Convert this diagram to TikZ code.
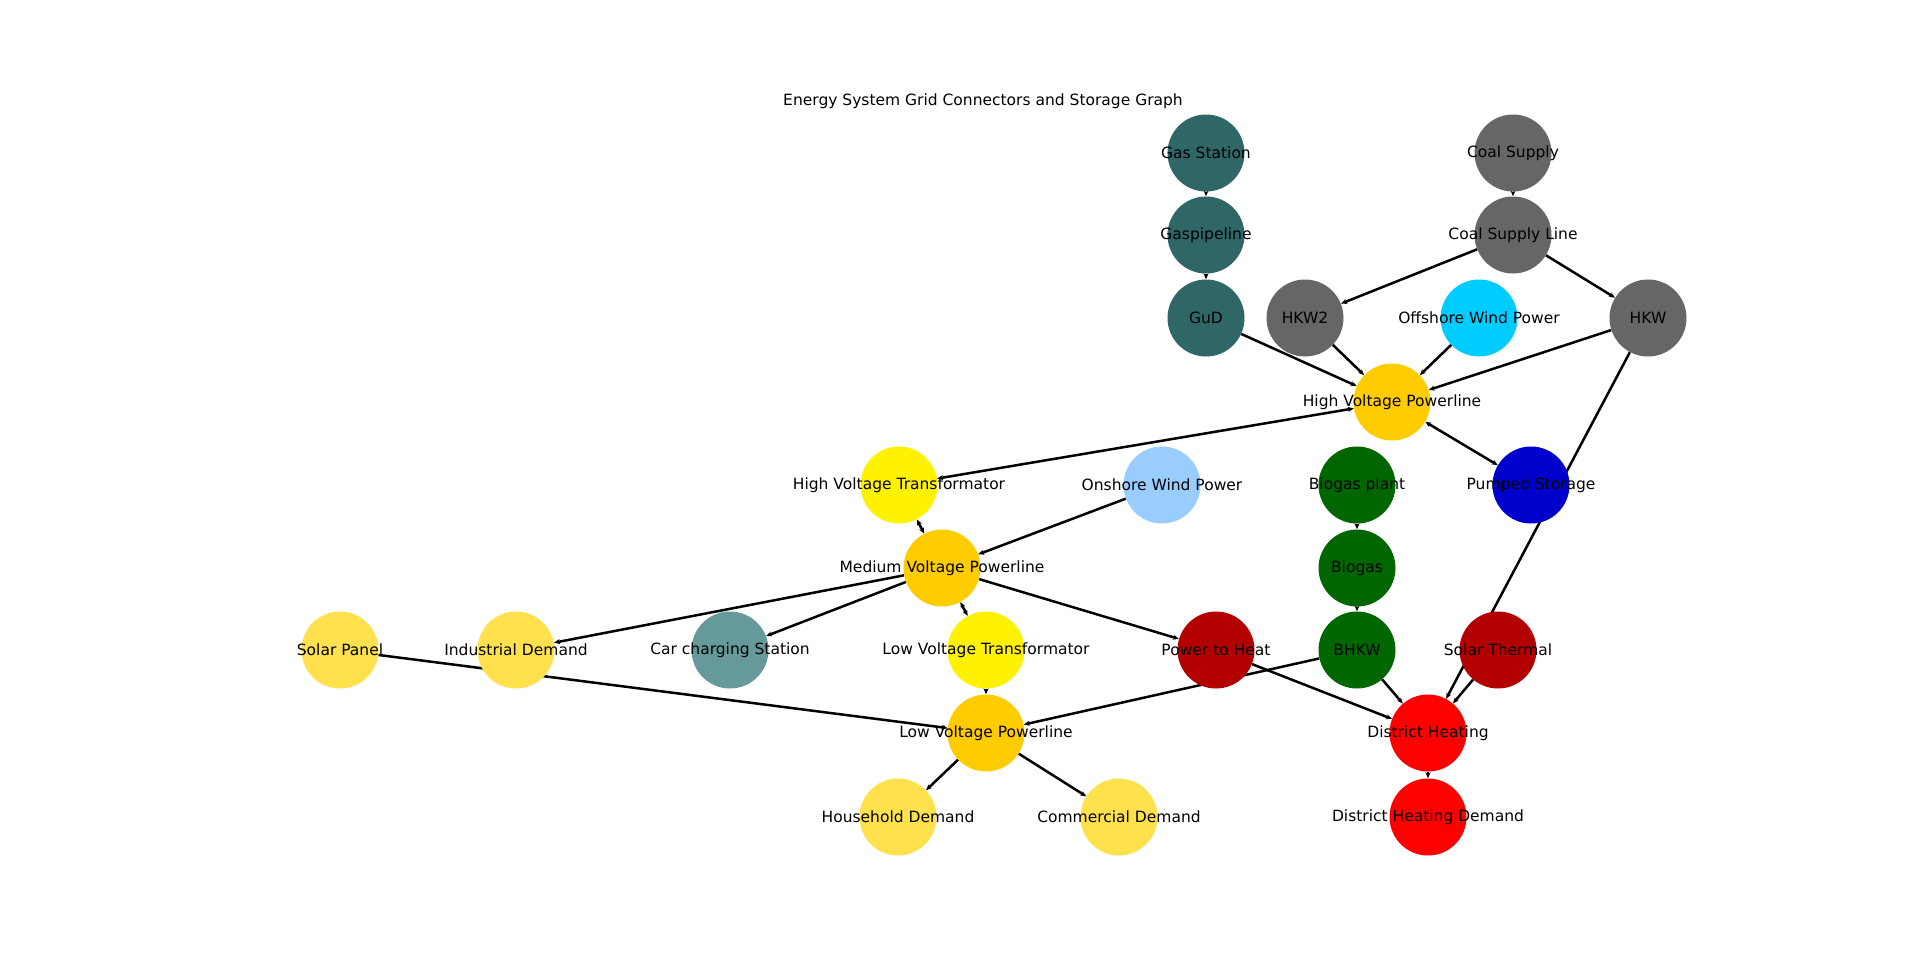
\documentclass[tikz,border=0pt]{standalone}
\usepackage{fontspec}
\setmainfont{DejaVu Sans}
\usetikzlibrary{arrows.meta,backgrounds,shapes.geometric}
\definecolor{slate}{HTML}{2F6666}
\definecolor{coal}{HTML}{666666}
\definecolor{sea}{HTML}{00CCFF}
\definecolor{gold}{HTML}{FFCC00}
\definecolor{sky}{HTML}{99CCFF}
\definecolor{bio}{HTML}{006600}
\definecolor{pump}{HTML}{0000CC}
\definecolor{sun}{HTML}{FFE14D}
\definecolor{cadet}{HTML}{669999}
\definecolor{heat}{HTML}{B30000}
\begin{document}
\begin{tikzpicture}[x=1pt,y=-1pt,
  n/.style={ellipse,draw=none,fill=#1,minimum width=77pt,minimum height=77pt,inner sep=0pt},
  t/.style={label={[font=\fontsize{15.5}{17}\selectfont,text=black]center:#1}},
  e/.style={line width=2.5pt,-{Stealth[length=6pt,width=5pt]}},
  b/.style={line width=2.5pt,{Stealth[length=6pt,width=5pt]}-{Stealth[length=6pt,width=5pt]}}]
  \useasboundingbox (0,0) rectangle (1920,961);
  \node [font=\fontsize{15.5}{17}\selectfont] (title) at (983,101) {Energy System Grid Connectors and Storage Graph};

  % nodes
  \node [n=slate,t=Gas Station] (gas) at (1206,153) {};
  \node [n=slate,t=Gaspipeline] (pipe) at (1206,235) {};
  \node [n=slate,t=GuD] (gud) at (1206,318) {};
  \node [n=coal,t=Coal Supply] (coal) at (1513,153) {};
  \node [n=coal,t=Coal Supply Line] (csl) at (1513,235) {};
  \node [n=coal,t=HKW2] (hkw2) at (1305,318) {};
  \node [n=sea,t=Offshore Wind Power] (off) at (1479,318) {};
  \node [n=coal,t=HKW] (hkw) at (1648,318) {};
  \node [n=gold,t=High Voltage Powerline] (hvp) at (1392,402) {};
  \node [n=yellow,t=High Voltage Transformator] (hvt) at (899,485) {};
  \node [n=sky,t=Onshore Wind Power] (on) at (1162,485) {};
  \node [n=bio,t=Biogas plant] (bplant) at (1357,485) {};
  \node [n=pump,t=Pumped Storage] (pump) at (1531,485) {};
  \node [n=gold,t=Medium Voltage Powerline] (mvp) at (942,568) {};
  \node [n=bio,t=Biogas] (biogas) at (1357,568) {};
  \node [n=sun,t=Solar Panel] (solar) at (340,650) {};
  \node [n=sun,t=Industrial Demand] (ind) at (516,650) {};
  \node [n=cadet,t=Car charging Station] (car) at (730,650) {};
  \node [n=yellow,t=Low Voltage Transformator] (lvt) at (986,650) {};
  \node [n=heat,t=Power to Heat] (p2h) at (1216,650) {};
  \node [n=bio,t=BHKW] (bhkw) at (1357,650) {};
  \node [n=heat,t=Solar Thermal] (sth) at (1498,650) {};
  \node [n=gold,t=Low Voltage Powerline] (lvp) at (986,733) {};
  \node [n=red,t=District Heating] (dh) at (1428,733) {};
  \node [n=sun,t=Household Demand] (house) at (898,817) {};
  \node [n=sun,t=Commercial Demand] (comm) at (1119,817) {};
  \node [n=red,t=District Heating Demand] (dhd) at (1428,817) {};

  % edges
  \begin{scope}[on background layer]
  \draw[e] (gas)--(pipe);
  \draw[e] (pipe)--(gud);
  \draw[e] (coal)--(csl);
  \draw[e] (csl)--(hkw2);
  \draw[e] (csl)--(hkw);
  \draw[e] (gud)--(hvp);
  \draw[e] (hkw2)--(hvp);
  \draw[e] (off)--(hvp);
  \draw[e] (hkw)--(hvp);
  \draw[b] (hvp)--(hvt);
  \draw[b] (hvp)--(pump);
  \draw[e] (hkw)--(dh);
  \draw[e] (sth)--(dh);
  \draw[b] (hvt)--(mvp);
  \draw[e] (on)--(mvp);
  \draw[e] (mvp)--(ind);
  \draw[e] (mvp)--(car);
  \draw[b] (mvp)--(lvt);
  \draw[e] (mvp)--(p2h);
  \draw[e] (solar)--(lvp);
  \draw[e] (lvt)--(lvp);
  \draw[e] (bhkw)--(lvp);
  \draw[e] (p2h)--(dh);
  \draw[e] (bhkw)--(dh);
  \draw[e] (bplant)--(biogas);
  \draw[e] (biogas)--(bhkw);
  \draw[e] (dh)--(dhd);
  \draw[e] (lvp)--(house);
  \draw[e] (lvp)--(comm);
  \end{scope}
\end{tikzpicture}
\end{document}
